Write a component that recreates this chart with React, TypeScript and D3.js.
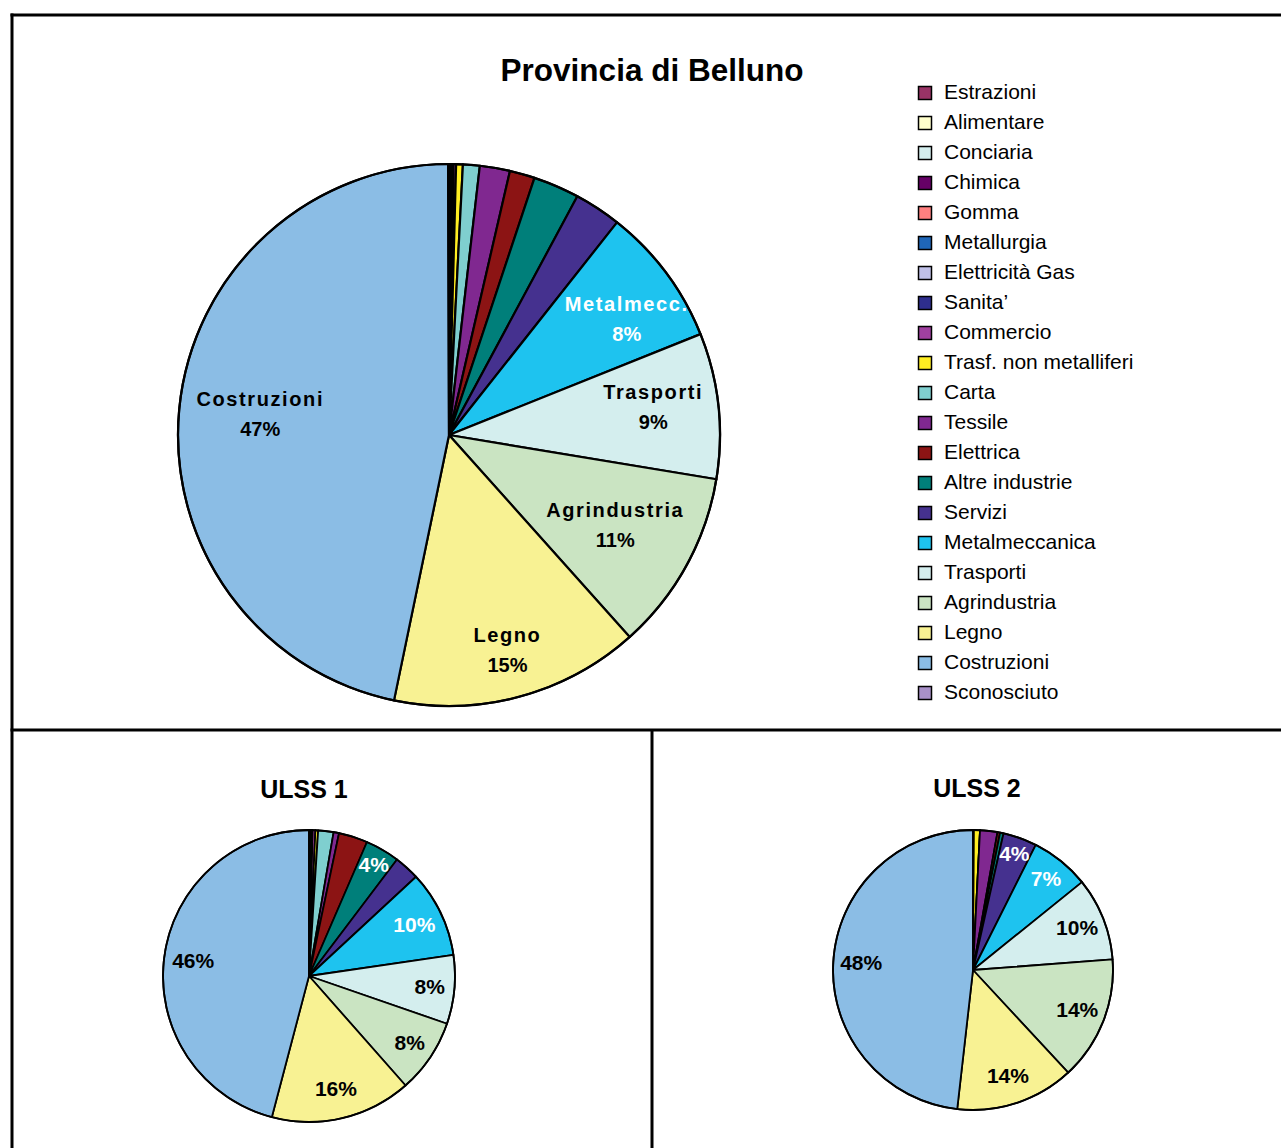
import React from "react";
import * as d3 from "d3";

const categories = [
  "Estrazioni", "Alimentare", "Conciaria", "Chimica", "Gomma", "Metallurgia",
  "Elettricità Gas", "Sanita’", "Commercio", "Trasf. non metalliferi", "Carta",
  "Tessile", "Elettrica", "Altre industrie", "Servizi", "Metalmeccanica",
  "Trasporti", "Agrindustria", "Legno", "Costruzioni", "Sconosciuto",
];

const shortNames = [
  "", "", "", "", "", "", "", "", "", "", "", "", "", "", "",
  "Metalmecc.", "Trasporti", "Agrindustria", "Legno", "Costruzioni", "",
];

const colors = [
  "#993366", "#FFFFCC", "#D4EEEE", "#660066", "#FF8080", "#1F66B8",
  "#C0C0E8", "#2E2E8E", "#A040A0", "#FFEE22", "#7FCFCF",
  "#802890", "#8C1414", "#007F7A", "#45318F", "#1EC3EF",
  "#D4EEEE", "#CAE4C2", "#F8F293", "#8BBDE5", "#A890C8",
];

const whiteLabel = [
  false, false, false, false, false, false, false, false, false, false, false,
  false, false, true, true, true, false, false, false, false, false,
];

const bellunoValues = [
  0.05, 0.03, 0.02, 0.05, 0.02, 0.03, 0.02, 0.05, 0.15, 0.4, 1.0,
  1.8, 1.5, 2.75, 2.8, 8.3, 8.7, 10.8, 14.9, 46.8, 0.05,
];

const ulss1Values = [
  0.05, 0.05, 0.05, 0.05, 0.05, 0.05, 0.05, 0.05, 0.3, 0.3, 1.7,
  0.6, 3.2, 3.8, 2.8, 9.6, 7.6, 8.2, 15.6, 45.9, 0,
];

const ulss2Values = [
  0.02, 0.02, 0, 0.02, 0, 0.02, 0, 0.02, 0, 0.7, 0,
  2.0, 0.3, 0.4, 3.9, 6.8, 9.6, 14.3, 13.7, 48.2, 0,
];

// label radius as fraction of pie radius (styling)
const mainLabelRadius = [
  0, 0, 0, 0, 0, 0, 0, 0, 0, 0, 0, 0, 0, 0, 0, 0.78, 0.76, 0.70, 0.83, 0.70, 0,
];
// small angular nudge for label placement (radians, styling)
const mainLabelAngleShift = [
  0, 0, 0, 0, 0, 0, 0, 0, 0, 0, 0, 0, 0, 0, 0, 0.07, -0.02, 0, 0, 0, 0,
];

const FONT = "'Liberation Sans', Arial, Helvetica, sans-serif";

type PieProps = {
  values: number[];
  cx: number;
  cy: number;
  r: number;
  named: boolean;
  strokeW: number;
};

function Pie({ values, cx, cy, r, named, strokeW }: PieProps) {
  const total = d3.sum(values);
  const data = values.map((v, i) => ({ v, i }));
  const pie = d3.pie<{ v: number; i: number }>().sort(null).value((d) => d.v);
  const arcs = pie(data);
  const arc = d3.arc<d3.PieArcDatum<{ v: number; i: number }>>().innerRadius(0).outerRadius(r);
  return (
    <g transform={`translate(${cx},${cy})`}>
      {arcs.map((a) => (
        <path
          key={a.data.i}
          d={arc(a) || ""}
          fill={colors[a.data.i]}
          stroke="#000"
          strokeWidth={strokeW}
          strokeLinejoin="round"
        />
      ))}
      <circle r={r} fill="none" stroke="#000" strokeWidth={strokeW} />
      {arcs.map((a) => {
        const pct = (a.data.v / total) * 100;
        const i = a.data.i;
        if (named) {
          if (!shortNames[i]) return null;
        } else if (pct < 3.5) return null;
        const lr = named ? mainLabelRadius[i] * r : (pct < 5 ? 0.88 : pct < 9 ? 0.83 : 0.8) * r;
        const mid = (a.startAngle + a.endAngle) / 2 + (named ? mainLabelAngleShift[i] : 0);
        const x = Math.sin(mid) * lr;
        const y = -Math.cos(mid) * lr;
        const fill = whiteLabel[i] ? "#fff" : "#000";
        const label = `${Math.round(pct)}%`;
        if (named) {
          return (
            <g key={"l" + i} fontFamily={FONT} fontWeight="bold" fontSize={20} fill={fill} textAnchor="middle">
              <text x={x} y={y - 15} dominantBaseline="middle" letterSpacing={1.6}>{shortNames[i]}</text>
              <text x={x} y={y + 15} dominantBaseline="middle">{label}</text>
            </g>
          );
        }
        return (
          <text
            key={"l" + i}
            x={x}
            y={y + 1}
            fontFamily={FONT}
            fontWeight="bold"
            fontSize={21}
            fill={fill}
            textAnchor="middle"
            dominantBaseline="middle"
          >
            {label}
          </text>
        );
      })}
    </g>
  );
}

export default function App() {
  const W = 1281;
  const H = 1148;
  const legendY = d3.scaleLinear().domain([0, categories.length - 1]).range([93, 693]);
  return (
    <svg width={W} height={H} style={{ position: "absolute", left: 0, top: 0, background: "#fff" }}>
      <rect x={0} y={0} width={W} height={H} fill="#fff" />
      {/* frame */}
      <line x1={10.5} y1={15} x2={W} y2={15} stroke="#000" strokeWidth={3} />
      <line x1={12} y1={13.5} x2={12} y2={H} stroke="#000" strokeWidth={3} />
      <line x1={10.5} y1={730} x2={W} y2={730} stroke="#000" strokeWidth={3} />
      <line x1={652} y1={730} x2={652} y2={H} stroke="#000" strokeWidth={3} />

      <text x={652} y={73} fontFamily={FONT} fontWeight="bold" fontSize={31.5} textAnchor="middle" dominantBaseline="middle">
        Provincia di Belluno
      </text>
      <Pie values={bellunoValues} cx={449} cy={435} r={271} named={true} strokeW={2.2} />

      {/* legend */}
      {categories.map((c, i) => (
        <g key={c} transform={`translate(918,${legendY(i)})`}>
          <rect x={0.5} y={-6.5} width={13} height={13} fill={colors[i]} stroke="#000" strokeWidth={1.5} />
          <text x={26} y={0} fontFamily={FONT} fontSize={21} dominantBaseline="middle" fill="#000">
            {c}
          </text>
        </g>
      ))}

      <text x={304} y={791} fontFamily={FONT} fontWeight="bold" fontSize={25} textAnchor="middle" dominantBaseline="middle">
        ULSS 1
      </text>
      <Pie values={ulss1Values} cx={309} cy={976} r={146} named={false} strokeW={1.8} />

      <text x={977} y={790} fontFamily={FONT} fontWeight="bold" fontSize={25} textAnchor="middle" dominantBaseline="middle">
        ULSS 2
      </text>
      <Pie values={ulss2Values} cx={973} cy={970} r={140} named={false} strokeW={1.8} />
    </svg>
  );
}
